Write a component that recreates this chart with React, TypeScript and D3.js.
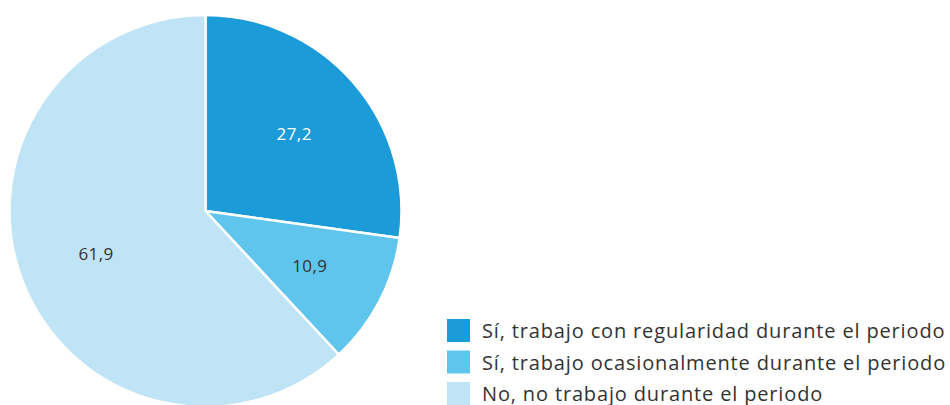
import React from "react";
import * as d3 from "d3";

const categories = [
  "Sí, trabajo con regularidad durante el periodo",
  "Sí, trabajo ocasionalmente durante el periodo",
  "No, no trabajo durante el periodo",
];
const values = [27.2, 10.9, 61.9];
const colors = ["#1b9bd7", "#5fc5ec", "#bfe4f5"];
const labelColors = ["#ffffff", "#333333", "#333333"];

export default function App() {
  const width = 950;
  const height = 405;
  const cx = 205.5;
  const cy = 211;
  const r = 196;

  const pie = d3.pie<number>().sort(null).value((d) => d);
  const arcs = pie(values);
  const arc = d3.arc<d3.PieArcDatum<number>>().innerRadius(0).outerRadius(r);
  const labelArc = d3
    .arc<d3.PieArcDatum<number>>()
    .innerRadius(r * 0.6)
    .outerRadius(r * 0.6);

  const fmt = (v: number) => v.toFixed(1).replace(".", ",");

  return (
    <svg
      width={width}
      height={height}
      style={{ position: "absolute", left: 0, top: 0 }}
      fontFamily="'Open Sans', 'Noto Sans', sans-serif"
    >
      <rect width={width} height={height} fill="#ffffff" />
      <g transform={`translate(${cx},${cy})`}>
        {arcs.map((a, i) => (
          <path
            key={i}
            d={arc(a) || ""}
            fill={colors[i]}
            stroke="#ffffff"
            strokeWidth={2.5}
            strokeLinejoin="round"
          />
        ))}
        {arcs.map((a, i) => {
          const [x, y] = labelArc.centroid(a);
          return (
            <text
              key={i}
              x={x}
              y={y}
              textAnchor="middle"
              dominantBaseline="central"
              fontSize={17}
              letterSpacing={0.4}
              fill={labelColors[i]}
            >
              {fmt(values[i])}
            </text>
          );
        })}
      </g>
      <g transform="translate(447,319)">
        {categories.map((c, i) => (
          <g key={i} transform={`translate(0,${i * 31.5})`}>
            <rect width={23} height={23} fill={colors[i]} />
            <text
              x={35}
              y={11.5}
              dominantBaseline="central"
              fontSize={20}
              letterSpacing={0.85}
              fill="#333333"
            >
              {c}
            </text>
          </g>
        ))}
      </g>
    </svg>
  );
}
